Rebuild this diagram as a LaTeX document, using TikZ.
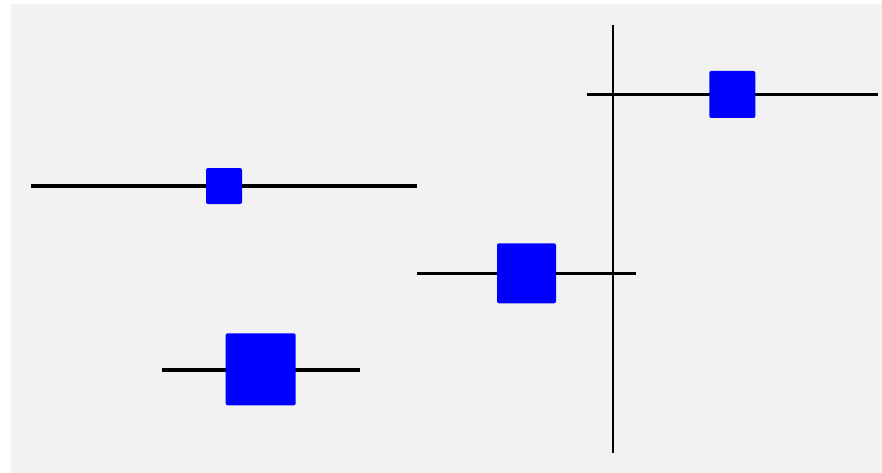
\documentclass[tikz,border=0pt]{standalone}
\definecolor{panel}{HTML}{F2F2F2}
\definecolor{boxblue}{HTML}{0000FF}
\tikzset{
  whisker/.style={line width=3.6pt, black},
  refline/.style={line width=2pt, black},
  sq/.style={fill=boxblue, draw=none, rounded corners=2pt, inner sep=0pt, outer sep=0pt},
}
\begin{document}
\begin{tikzpicture}[x=1pt,y=-1pt]
\useasboundingbox (0,0) rectangle (882,473);
\fill[white] (0,0) rectangle (882,473);
\fill[panel] (11,4) rectangle (882,473);
% reference line
\coordinate (zt) at (613,25.5);
\coordinate (zb) at (613,452.5);
\draw[refline] (zt) -- (zb);
% row 1
\coordinate (l1) at (587,94.5);
\coordinate (r1) at (877.5,94.5);
\draw[whisker] (l1) -- (r1);
\node[sq, minimum width=46pt, minimum height=47pt] (s1) at (732.3,94.5) {};
% row 2
\coordinate (l2) at (31,186);
\coordinate (r2) at (417,186);
\draw[whisker] (l2) -- (r2);
\node[sq, minimum width=36pt, minimum height=36pt] (s2) at (224,186) {};
% row 3
\coordinate (l3) at (417.3,273.3);
\coordinate (r3) at (635.7,273.3);
\draw[whisker] (l3) -- (r3);
\node[sq, minimum width=59pt, minimum height=60pt] (s3) at (526.5,273.3) {};
% row 4
\coordinate (l4) at (161.7,370);
\coordinate (r4) at (360,370);
\draw[whisker] (l4) -- (r4);
\node[sq, minimum width=70pt, minimum height=72pt] (s4) at (260.7,369.3) {};
\end{tikzpicture}
\end{document}
